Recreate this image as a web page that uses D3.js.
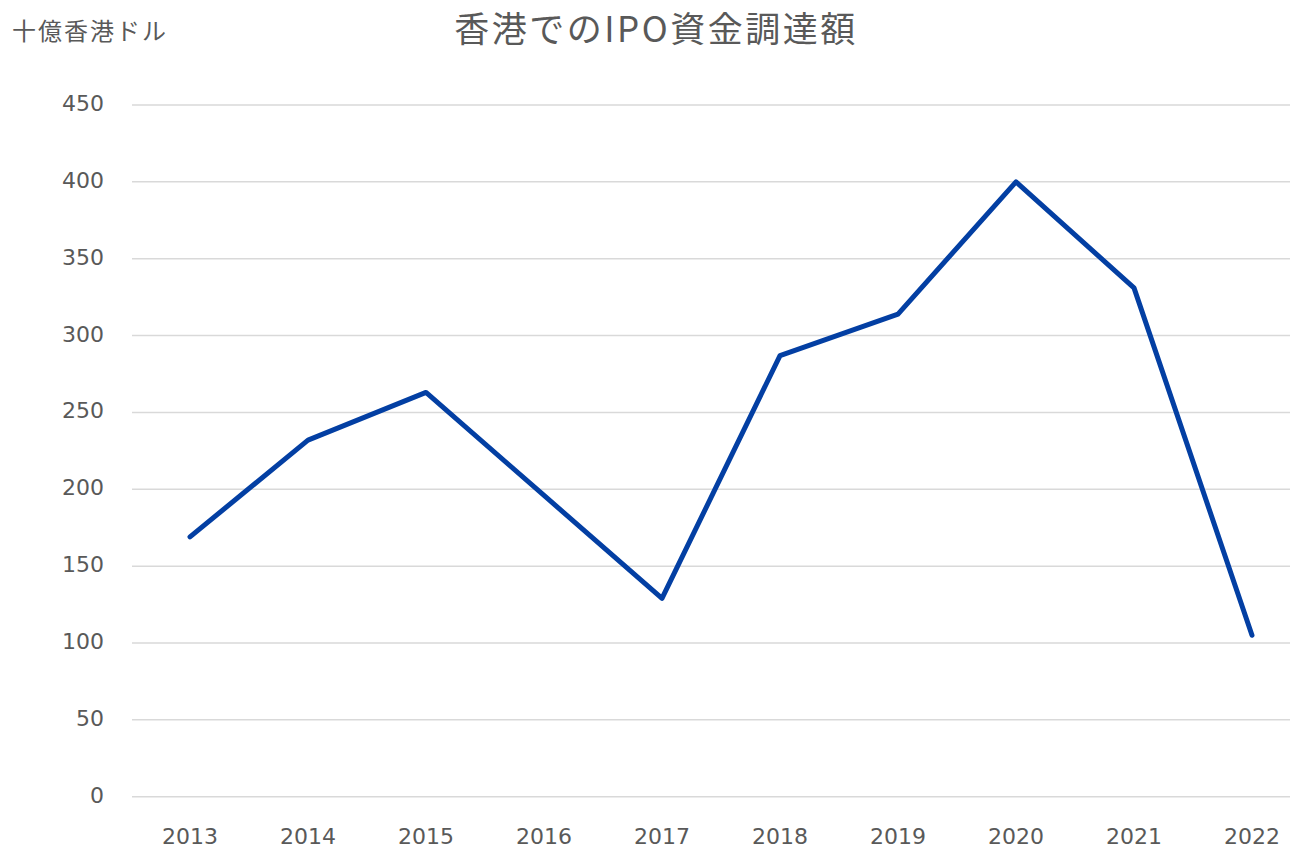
<!DOCTYPE html>
<html>
<head>
<meta charset="utf-8">
<script src="https://cdn.jsdelivr.net/npm/d3@7"></script>
<style>
  body { margin: 0; background: #fff; }
  text { fill: #595959; font-family: "DejaVu Sans", "Noto Sans CJK JP", sans-serif; }
  .cjk { font-family: "Noto Sans CJK JP", sans-serif; }
</style>
</head>
<body>
<div id="wrapper"></div>
<script>
// data
const years = ["2013", "2014", "2015", "2016", "2017", "2018", "2019", "2020", "2021", "2022"]
const proceeds = [169, 232, 263, 196, 129, 287, 314, 400, 331, 105]
const yTicks = [0, 50, 100, 150, 200, 250, 300, 350, 400, 450]

const width = 1295
const height = 848
const margin = { top: 105, right: 5, bottom: 52, left: 132 }

const svg = d3.select('#wrapper')
  .append('svg')
  .attr('width', width)
  .attr('height', height)

// first and last category sit at 190 and 1252
const x = d3.scalePoint()
  .domain(years)
  .range([190, 1252])

const y = d3.scaleLinear()
  .domain([0, 450])
  .range([height - margin.bottom + 0.7, margin.top])

// gridlines
svg.append('g')
  .selectAll('line')
  .data(yTicks)
  .join('line')
  .attr('x1', margin.left)
  .attr('x2', width - margin.right)
  .attr('y1', d => y(d))
  .attr('y2', d => y(d))
  .attr('stroke', '#d9d9d9')
  .attr('stroke-width', 1.5)

// y tick labels
svg.append('g')
  .selectAll('text')
  .data(yTicks)
  .join('text')
  .attr('x', 104)
  .attr('y', d => y(d) + 6)
  .attr('text-anchor', 'end')
  .attr('font-size', 22)
  .text(d => d)

// x tick labels
svg.append('g')
  .selectAll('text')
  .data(years)
  .join('text')
  .attr('x', d => x(d))
  .attr('y', 844)
  .attr('text-anchor', 'middle')
  .attr('font-size', 22)
  .text(d => d)

// the line
const line = d3.line()
  .x((d, i) => x(years[i]))
  .y(d => y(d))

svg.append('path')
  .datum(proceeds)
  .attr('d', line)
  .attr('fill', 'none')
  .attr('stroke', '#033fa3')
  .attr('stroke-width', 5)
  .attr('stroke-linejoin', 'round')
  .attr('stroke-linecap', 'round')

// title + unit label
svg.append('text')
  .attr('class', 'cjk')
  .attr('x', 656)
  .attr('y', 42)
  .attr('text-anchor', 'middle')
  .attr('font-size', 35)
  .attr('letter-spacing', 2.5)
  .text('香港でのIPO資金調達額')

svg.append('text')
  .attr('class', 'cjk')
  .attr('x', 12)
  .attr('y', 40)
  .attr('font-size', 24)
  .attr('letter-spacing', 2)
  .text('十億香港ドル')
</script>
</body>
</html>
